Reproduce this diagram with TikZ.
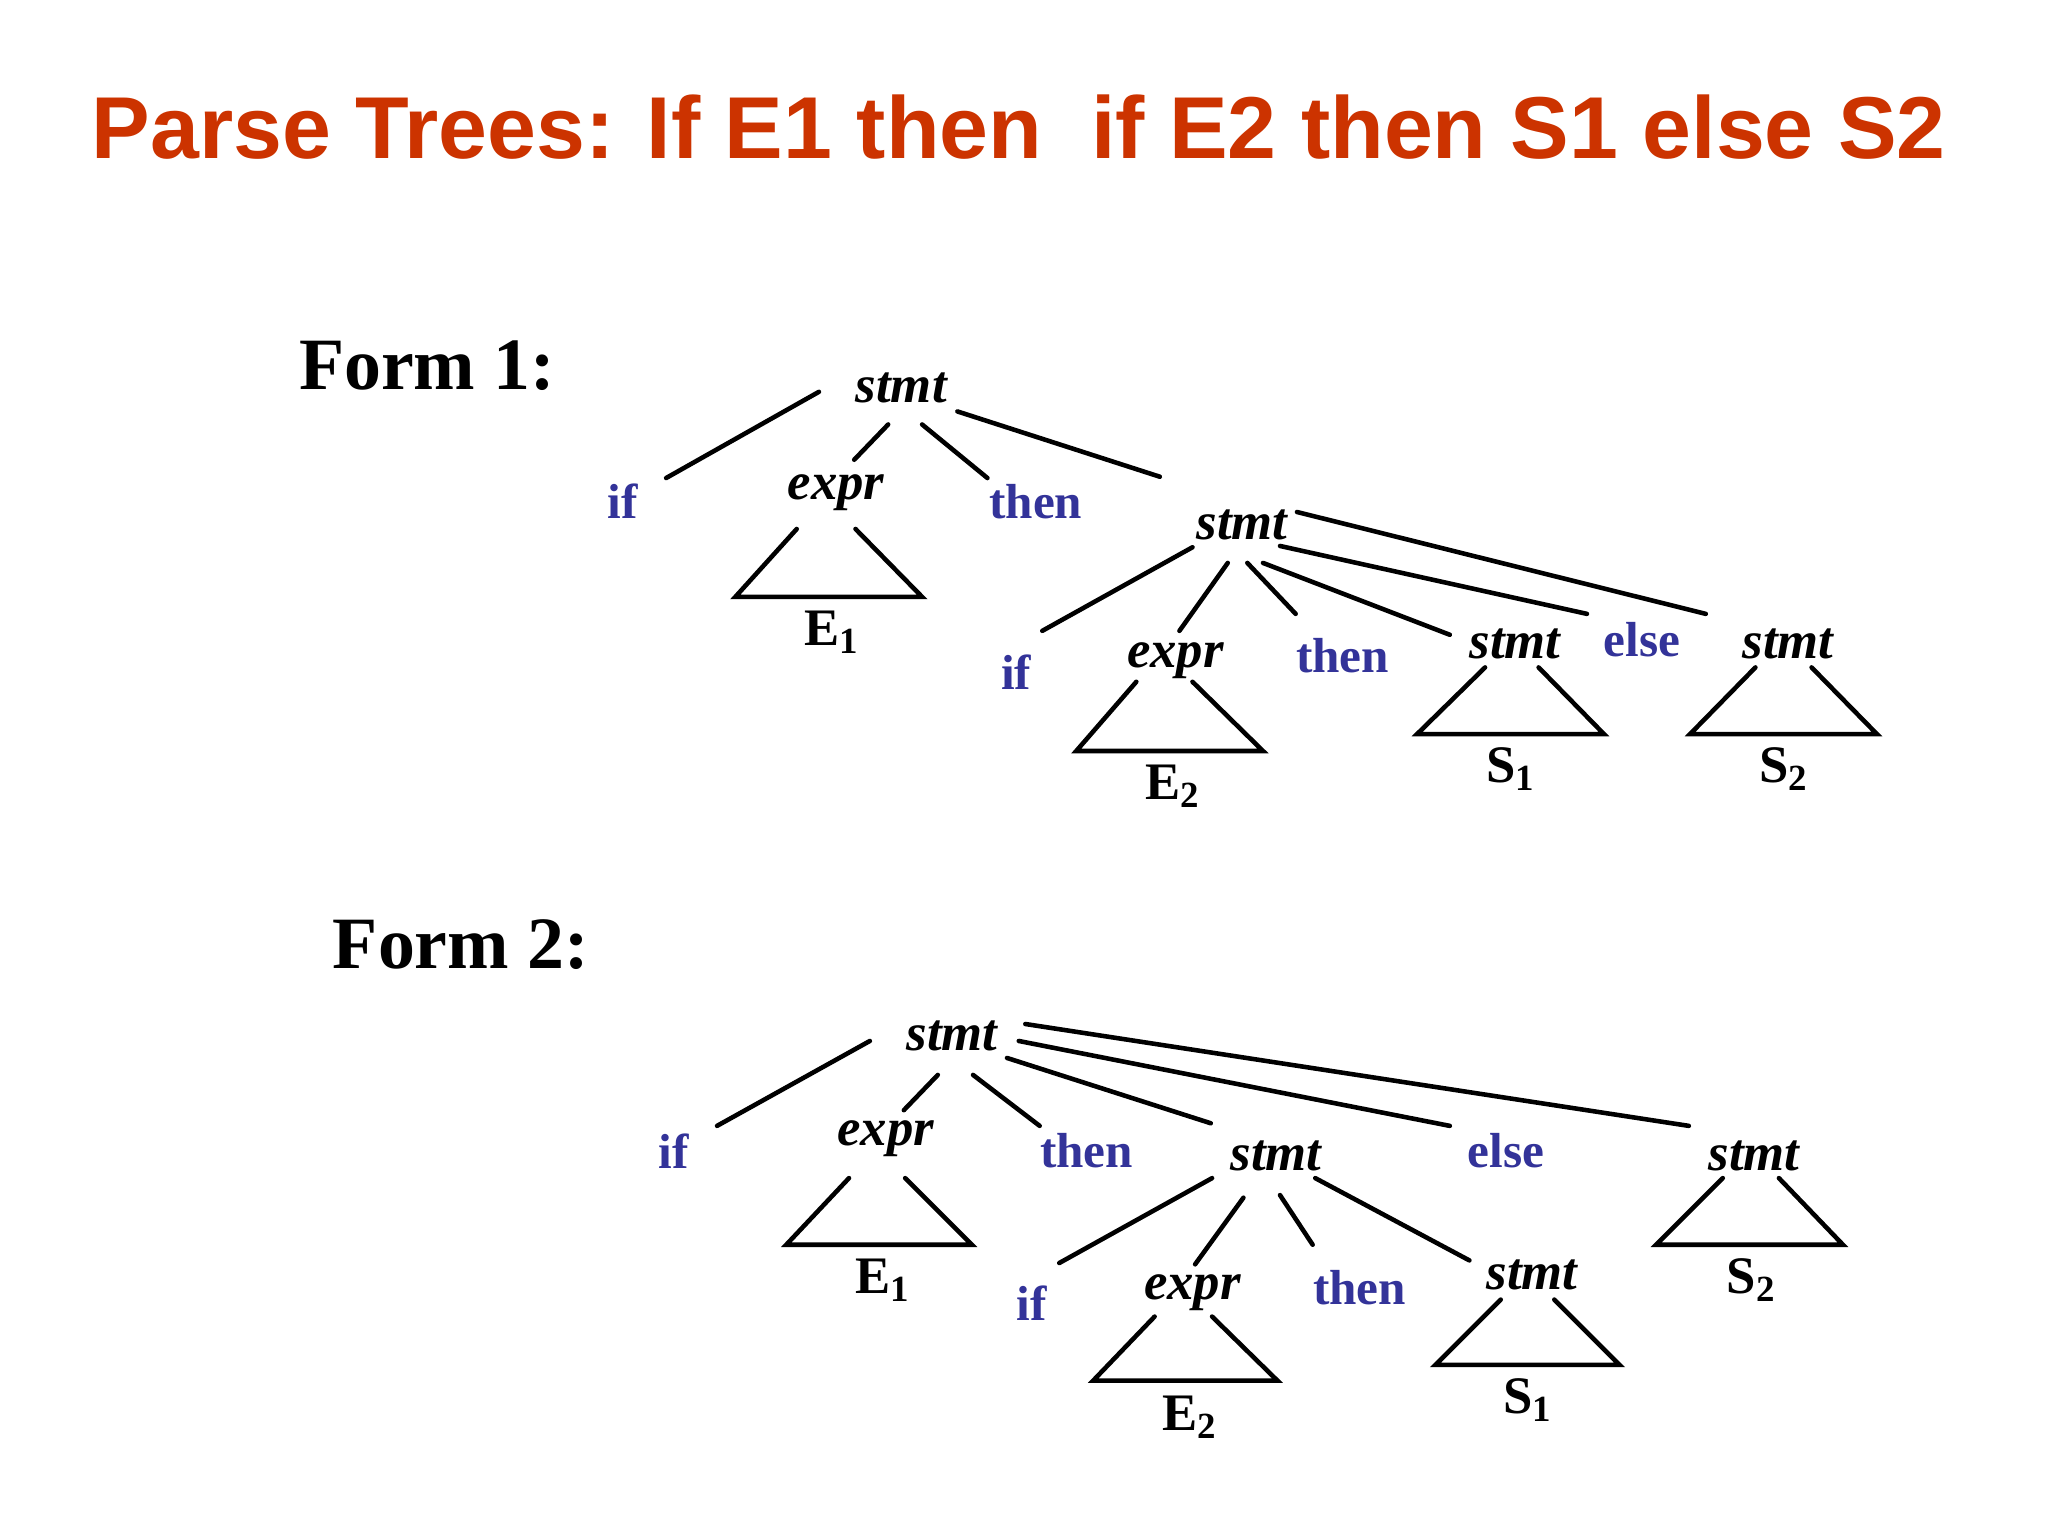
\documentclass[tikz,border=0pt]{standalone}
\usepackage{fontspec}
\setmainfont{Liberation Serif}
\newfontfamily\titlefont{Liberation Sans}
\definecolor{titlered}{HTML}{CC3300}
\definecolor{kwblue}{HTML}{333399}
\begin{document}
\begin{tikzpicture}[x=0.013061cm,y=-0.013061cm,
  ln/.style={line width=1.3pt,line cap=round},
  nt/.style={font=\fontsize{15}{17}\selectfont\bfseries\itshape,inner sep=0pt},
  kw/.style={font=\fontsize{14}{16}\selectfont\bfseries,text=kwblue,inner sep=0pt},
  lf/.style={font=\fontsize{15}{17}\selectfont\bfseries,inner sep=0pt},
  form/.style={font=\fontsize{21}{24}\selectfont\bfseries,inner sep=0pt}]
\fill[white] (0,0) rectangle (1568,1176);
\useasboundingbox (0,0) rectangle (1568,1176);
\node[font=\titlefont\fontsize{25}{28}\selectfont\bfseries,text=titlered] (title) at (780,97) {Parse Trees: If E1 then\ \ if E2 then S1 else S2};
% Form 1
\node[form] (f1) at (327,280) {Form 1:};
\node[nt] (r1) at (690,297) {stmt};
\draw[ln] (627,300)--(510,366) (680,325)--(654,352) (706,325)--(756,366) (733,315)--(888,365);
\node[kw] (if1) at (477,384) {if};
\node[nt] (ex1) at (640,377) {expr};
\node[kw] (th1) at (793,384) {then};
\draw[ln] (610,405)--(563,457)--(706,457)--(655,405);
\node[lf] (e1a) at (637,484) {E$_\mathbf{1}$};
\node[nt] (s1b) at (951,402) {stmt};
\draw[ln] (913,419)--(798,483) (940,431)--(903,483) (955,431)--(992,470) (967,431)--(1110,486) (980,418)--(1215,470) (993,392)--(1306,470);
\node[kw] (if1b) at (778,515) {if};
\node[nt] (ex1b) at (900,506) {expr};
\node[kw] (th1b) at (1028,502) {then};
\node[nt] (st1c) at (1160,493) {stmt};
\node[kw] (el1) at (1257,490) {else};
\node[nt] (st1d) at (1369,493) {stmt};
\draw[ln] (870,522)--(824,575)--(967,575)--(913,522);
\node[lf] (e2a) at (898,602) {E$_\mathbf{2}$};
\draw[ln] (1137,511)--(1085,562)--(1228,562)--(1178,511);
\node[lf] (s1a) at (1157,589) {S$_\mathbf{1}$};
\draw[ln] (1344,511)--(1294,562)--(1437,562)--(1387,511);
\node[lf] (s2a) at (1366,589) {S$_\mathbf{2}$};
% Form 2
\node[form] (f2) at (353,723) {Form 2:};
\node[nt] (r2) at (729,793) {stmt};
\draw[ln] (666,797)--(549,862) (718,823)--(692,850) (745,823)--(796,862) (771,810)--(927,860) (780,797)--(1110,862) (785,784)--(1293,862);
\node[kw] (if2) at (516,881) {if};
\node[nt] (ex2) at (678,872) {expr};
\node[kw] (th2) at (832,881) {then};
\node[nt] (st2b) at (977,885) {stmt};
\node[kw] (el2) at (1153,881) {else};
\node[nt] (st2c) at (1343,885) {stmt};
\draw[ln] (650,902)--(602,953)--(744,953)--(693,902);
\node[lf] (e1b) at (676,980) {E$_\mathbf{1}$};
\draw[ln] (1319,902)--(1268,953)--(1411,953)--(1362,902);
\node[lf] (s2b) at (1341,980) {S$_\mathbf{2}$};
\draw[ln] (928,902)--(811,967) (952,917)--(915,968) (980,915)--(1005,953) (1007,902)--(1125,965);
\node[kw] (if2b) at (790,998) {if};
\node[nt] (ex2b) at (913,990) {expr};
\node[kw] (th2b) at (1041,986) {then};
\node[nt] (st2d) at (1173,976) {stmt};
\draw[ln] (884,1008)--(837,1057)--(978,1057)--(928,1008);
\node[lf] (e2b) at (911,1085) {E$_\mathbf{2}$};
\draw[ln] (1149,995)--(1099,1045)--(1240,1045)--(1190,995);
\node[lf] (s1b2) at (1170,1072) {S$_\mathbf{1}$};
\end{tikzpicture}
\end{document}
